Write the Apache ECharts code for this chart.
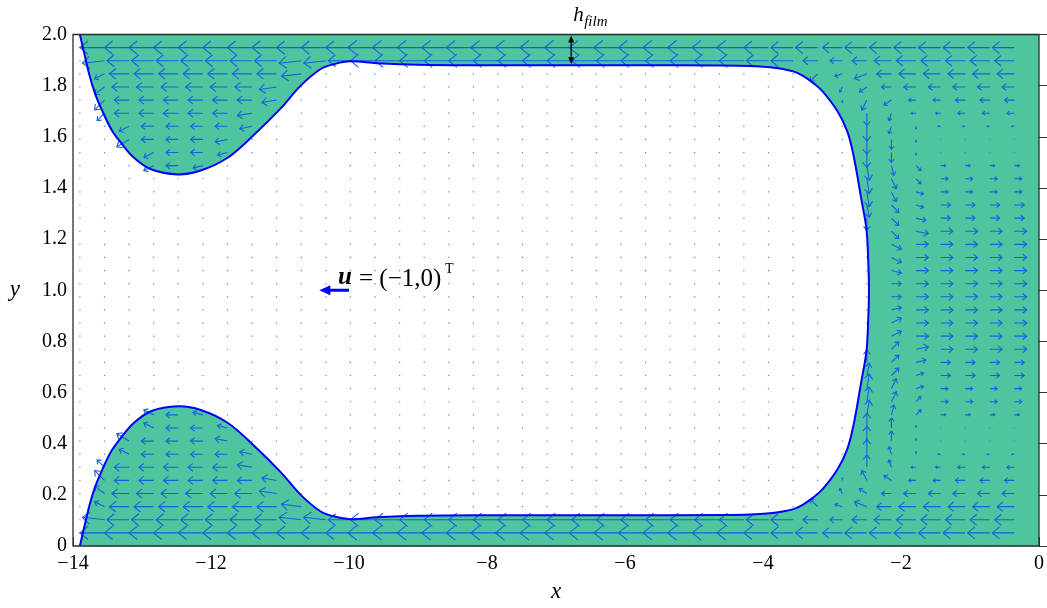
<!DOCTYPE html>
<html>
<head>
<meta charset="utf-8">
<title>Taylor bubble velocity field</title>
<script src="https://cdn.jsdelivr.net/npm/echarts@6/dist/echarts.min.js"></script>
<style>
html, body { margin: 0; padding: 0; background: #fff; }
#chart { width: 1047px; height: 608px; }
</style>
</head>
<body>
<div id="chart"></div>
<script>
// interface, upper half: wall corner -> wake lobe -> film -> nose tip
const topEdge = [
	[-13.9, 2.0], [-13.84, 1.93], [-13.76, 1.84], [-13.68, 1.769], [-13.58, 1.704], [-13.44, 1.627],
	[-13.3, 1.575], [-13.12, 1.519], [-12.87, 1.473], [-12.48, 1.453], [-12.15, 1.468],
	[-11.76, 1.518], [-11.38, 1.607], [-10.99, 1.711], [-10.7, 1.8], [-10.41, 1.865],
	[-10.22, 1.884], [-9.98, 1.895], [-9.6, 1.888], [-9.0, 1.882], [-8.0, 1.88], [-6.0, 1.88],
	[-4.6, 1.879], [-4.18, 1.877], [-3.9, 1.872], [-3.71, 1.865], [-3.55, 1.855], [-3.42, 1.838],
	[-3.27, 1.81], [-3.13, 1.776], [-2.92, 1.7], [-2.78, 1.622], [-2.69, 1.53], [-2.58, 1.364],
	[-2.5, 1.237], [-2.474, 1.106], [-2.464, 1.0]
];
// interface, lower half: wall corner -> wake lobe -> film -> nose tip
const bottomEdge = [
	[-13.9, 0.0], [-13.84, 0.07], [-13.76, 0.16], [-13.68, 0.231], [-13.58, 0.296], [-13.44, 0.373],
	[-13.3, 0.425], [-13.12, 0.481], [-12.87, 0.527], [-12.48, 0.546], [-12.15, 0.532],
	[-11.76, 0.482], [-11.38, 0.393], [-10.99, 0.289], [-10.7, 0.2], [-10.41, 0.135],
	[-10.22, 0.116], [-9.98, 0.105], [-9.6, 0.112], [-9.0, 0.118], [-8.0, 0.12], [-6.0, 0.12],
	[-4.6, 0.121], [-4.18, 0.123], [-3.9, 0.128], [-3.71, 0.135], [-3.55, 0.145], [-3.42, 0.162],
	[-3.27, 0.19], [-3.13, 0.224], [-2.92, 0.3], [-2.78, 0.378], [-2.69, 0.47], [-2.58, 0.636],
	[-2.5, 0.763], [-2.474, 0.894], [-2.464, 1.0]
];

// quiver grid: 39 columns from x=-13.9, 40 rows from y=2 (top) down to y=0
const colX0 = -13.9;
const colStep = 13.9 / 39;
const rowStep = 2 / 39;

// velocity read per grid cell, one string per row (top row first).
// '.' = zero (dot), '1'..'9' = +0.1..+0.9, 'a'..'k' = -0.1..-1.1
// unit 1 = one column spacing of arrow length on screen
const uRows = [
	".......... .......... .......... .........",
	".jjjjjjjjj jjkkkkkkkk kkkkkkkkji ihiiiiiii",
	".iiiiiiiii iijjjjjjjj jjjjjjjjii fefghhhhh",
	".dhhhhhhhh .......... .......... ccefggggg",
	".dggggggg. .......... .......... .acdeeeee",
	".dfffffff. .......... .......... ..bcccddd",
	".cffffff.. .......... .......... ...abbccc",
	"..deeeee.. .......... .......... ...a.aaaa",
	"..eeeee... .......... .......... .........",
	"...deed... .......... .......... .........",
	"...ded.... .......... .......... ..1122222",
	".......... .......... .......... ..1223333",
	".......... .......... .......... ..1233333",
	".......... .......... .......... ..1334444",
	".......... .......... .......... ...344444",
	".......... .......... .......... ...355555",
	".......... .......... .......... ...455555",
	".......... .......... .......... ...455555",
	".......... .......... .......... ...455555",
	".......... .......... .......... ...455555",
	".......... .......... .......... ...455555",
	".......... .......... .......... ...455555",
	".......... .......... .......... ...455555",
	".......... .......... .......... ...455555",
	".......... .......... .......... ...355555",
	".......... .......... .......... ...344444",
	".......... .......... .......... ..1334444",
	".......... .......... .......... ..1233333",
	".......... .......... .......... ..1223333",
	"...ded.... .......... .......... ..1122222",
	"...deed... .......... .......... .........",
	"..eeeee... .......... .......... .........",
	"..deeeee.. .......... .......... ...a.aaaa",
	".cffffff.. .......... .......... ...abbccc",
	".dfffffff. .......... .......... ..bcccddd",
	".dggggggg. .......... .......... .acdeeeee",
	".dhhhhhhhh .......... .......... ccefggggg",
	".iiiiiiiii iijjjjjjjj jjjjjjjjii fefghhhhh",
	".jjjjjjjjj jjkkkkkkkk kkkkkkkkji ihiiiiiii",
	".......... .......... .......... ........."
];
const vRows = [
	".......... .......... .......... .........",
	".......... .......... .......... .........",
	".a.......a a......... .......... .........",
	".b.......a .......... .......... cab......",
	".c......a. .......... .......... .bb......",
	".d......a. .......... .......... .adb.....",
	".c.....a.. .......... .......... ..ec.....",
	"..b....a.. .......... .......... ..fca....",
	"..c...a... .......... .......... ..fda....",
	"...b..a... .......... .......... ..fda....",
	"...b.a.... .......... .......... ..fdb....",
	".......... .......... .......... ..fdb....",
	".......... .......... .......... ..fda....",
	".......... .......... .......... ..eca....",
	".......... .......... .......... ..eca....",
	".......... .......... .......... ...ca....",
	".......... .......... .......... ...b.....",
	".......... .......... .......... ...b.....",
	".......... .......... .......... ...a.....",
	".......... .......... .......... .........",
	".......... .......... .......... .........",
	".......... .......... .......... ...1.....",
	".......... .......... .......... ...2.....",
	".......... .......... .......... ...2.....",
	".......... .......... .......... ...31....",
	".......... .......... .......... ..531....",
	".......... .......... .......... ..531....",
	".......... .......... .......... ..641....",
	".......... .......... .......... ..642....",
	"...2.1.... .......... .......... ..642....",
	"...2..1... .......... .......... ..641....",
	"..3...1... .......... .......... ..641....",
	"..2....1.. .......... .......... ..631....",
	".3.....1.. .......... .......... ..53.....",
	".4......1. .......... .......... .142.....",
	".3......1. .......... .......... .22......",
	".2.......1 .......... .......... 312......",
	".1.......1 1......... .......... .........",
	".......... .......... .......... .........",
	".......... .......... .......... ........."
];

// annotations (data coordinates)
const uArrow = [[-10.0, 1.0], [-10.43, 1.0]];
const uLabelAt = [-10.16, 1.0];
const filmArrow = [[-6.78, 2.0], [-6.78, 1.88]];

const serif = "'Liberation Serif', 'DejaVu Serif', serif";
const green = '#4ec59f';
const arrowBlue = '#1a5fe0';

function level(c) {
	if (c === '.') return 0;
	if (c >= '0' && c <= '9') return +c / 10;
	return -(c.charCodeAt(0) - 96) / 10;
}

const field = [];
uRows.forEach((row, k) => {
	const us = row.replace(/ /g, '');
	const vs = vRows[k].replace(/ /g, '');
	const y = 2 - k * rowStep;
	for (let i = 0; i < us.length; i++) {
		field.push([colX0 + i * colStep, y, level(us[i]), level(vs[i])]);
	}
});

const outline = topEdge.concat(bottomEdge.slice(0, -1).reverse());
// closed shape for the white fill, reaching just past the liquid's left edge
const bubbleShape = [[-13.97, 2.0]].concat(outline, [[-13.97, 0.0]]);

function renderLiquid(params, api) {
	const a = api.coord([colX0, 2]);
	const b = api.coord([0, 0]);
	return {
		type: 'group',
		children: [
			{ type: 'rect', shape: { x: a[0], y: a[1], width: b[0] - a[0], height: b[1] - a[1] }, style: { fill: green } },
			{ type: 'polygon', shape: { points: bubbleShape.map((p) => api.coord(p)), smooth: 0.35 }, style: { fill: '#fff' } },
		],
	};
}

function renderArrow(params, api) {
	const p = api.coord([api.value(0), api.value(1)]);
	const s = api.coord([colX0 + colStep, 0])[0] - api.coord([colX0, 0])[0];
	const dx = api.value(2) * s;
	const dy = -api.value(3) * s;
	const len = Math.hypot(dx, dy);
	if (len < 1) {
		return { type: 'rect', shape: { x: p[0] - 0.6, y: p[1] - 0.6, width: 1.2, height: 1.2 }, style: { fill: '#4a84ea' } };
	}
	const tip = [p[0] + dx, p[1] + dy];
	const ux = dx / len, uy = dy / len;
	const back = 0.33 * len, side = 0.27 * len;
	const h1 = [tip[0] - ux * back - uy * side, tip[1] - uy * back + ux * side];
	const h2 = [tip[0] - ux * back + uy * side, tip[1] - uy * back - ux * side];
	return {
		type: 'group',
		children: [
			{ type: 'line', shape: { x1: p[0], y1: p[1], x2: tip[0], y2: tip[1] }, style: { stroke: arrowBlue, lineWidth: 1.1 } },
			{ type: 'polyline', shape: { points: [h1, tip, h2] }, style: { stroke: arrowBlue, lineWidth: 1.1, fill: null } },
		],
	};
}

function renderInterface(params, api) {
	return {
		type: 'polyline',
		shape: { points: outline.map((p) => api.coord(p)), smooth: 0.35 },
		style: { stroke: '#0000ff', lineWidth: 2, fill: null },
	};
}

function renderFrame(params, api) {
	const a = api.coord([-14, 2]);
	const b = api.coord([0, 0]);
	return {
		type: 'rect',
		shape: { x: a[0], y: a[1], width: b[0] - a[0], height: b[1] - a[1] },
		style: { stroke: '#2b2b2b', lineWidth: 1.3, fill: null },
	};
}

function renderNotes(params, api) {
	const t = api.coord(uArrow[1]);
	const f = api.coord(uArrow[0]);
	const l = api.coord(uLabelAt);
	const fa = api.coord(filmArrow[0]);
	const fb = api.coord(filmArrow[1]);
	return {
		type: 'group',
		children: [
			{ type: 'line', shape: { x1: f[0], y1: f[1], x2: t[0] + 8, y2: t[1] }, style: { stroke: '#0000ff', lineWidth: 3 } },
			{ type: 'polygon', shape: { points: [[t[0], t[1]], [t[0] + 11, t[1] - 5], [t[0] + 11, t[1] + 5]] }, style: { fill: '#0000ff' } },
			{ type: 'text', x: l[0], y: l[1] - 13, style: { text: 'u', fontFamily: serif, fontSize: 25, fontWeight: 'bold', fontStyle: 'italic', fill: '#000', align: 'left', verticalAlign: 'middle' } },
			{ type: 'text', x: l[0] + 21, y: l[1] - 11, style: { text: '= (\u22121,0)', fontFamily: serif, fontSize: 25, fill: '#000', align: 'left', verticalAlign: 'middle' } },
			{ type: 'text', x: l[0] + 107, y: l[1] - 21, style: { text: 'T', fontFamily: serif, fontSize: 14, fill: '#000', align: 'left', verticalAlign: 'middle' } },
			{ type: 'line', shape: { x1: fa[0], y1: fa[1] + 5, x2: fb[0], y2: fb[1] - 5 }, style: { stroke: '#000', lineWidth: 1.3 } },
			{ type: 'polygon', shape: { points: [[fa[0], fa[1] + 1], [fa[0] - 3, fa[1] + 8], [fa[0] + 3, fa[1] + 8]] }, style: { fill: '#000' } },
			{ type: 'polygon', shape: { points: [[fb[0], fb[1] - 1], [fb[0] - 3, fb[1] - 8], [fb[0] + 3, fb[1] - 8]] }, style: { fill: '#000' } },
			{ type: 'text', x: fa[0] + 2, y: fa[1] - 19, style: { text: 'h', fontFamily: serif, fontSize: 21, fontStyle: 'italic', fill: '#000', align: 'left', verticalAlign: 'middle' } },
			{ type: 'text', x: fa[0] + 13, y: fa[1] - 12, style: { text: 'film', fontFamily: serif, fontSize: 15, fontStyle: 'italic', fill: '#000', align: 'left', verticalAlign: 'middle' } },
		],
	};
}

const chart = echarts.init(document.getElementById('chart'));
const option = {
	animation: false,
	backgroundColor: '#fff',
	grid: { left: 73, right: 8, top: 34.5, bottom: 54 },
	xAxis: {
		type: 'value',
		min: -14,
		max: 0,
		interval: 2,
		name: 'x',
		nameLocation: 'middle',
		nameGap: 34,
		nameTextStyle: { fontFamily: serif, fontStyle: 'italic', fontSize: 23, color: '#000' },
		axisLine: { show: false },
		axisTick: { inside: true, length: 9, lineStyle: { color: '#333' } },
		axisLabel: {
			margin: 8,
			fontFamily: serif,
			fontSize: 20,
			color: '#000',
			formatter: (v) => (v < 0 ? '\u2212' + Math.abs(v) : '0'),
		},
		splitLine: { show: false },
	},
	yAxis: {
		type: 'value',
		z: 3,
		min: 0,
		max: 2,
		interval: 0.2,
		name: 'y',
		nameLocation: 'middle',
		nameRotate: 0,
		nameGap: 53,
		nameTextStyle: { fontFamily: serif, fontStyle: 'italic', fontSize: 23, color: '#000', padding: [12, 0, 0, 0] },
		axisLine: { show: false },
		axisTick: { inside: true, length: 9, lineStyle: { color: '#333' } },
		axisLabel: {
			margin: 6,
			fontFamily: serif,
			fontSize: 20,
			color: '#000',
			formatter: (v) => (v === 0 ? '0' : v.toFixed(1)),
		},
		splitLine: { show: false },
	},
	series: [
		{ type: 'custom', name: 'liquid', z: 1, data: [0], renderItem: renderLiquid, silent: true },
		{ type: 'custom', name: 'velocity', z: 2, data: field, renderItem: renderArrow, clip: true, silent: true },
		{ type: 'custom', name: 'interface', z: 3, data: [0], renderItem: renderInterface, silent: true },
		{ type: 'custom', name: 'frame', z: 4, data: [0], renderItem: renderFrame, silent: true },
		{ type: 'custom', name: 'notes', z: 5, data: [0], renderItem: renderNotes, silent: true },
	],
};
chart.setOption(option);
</script>
</body>
</html>
